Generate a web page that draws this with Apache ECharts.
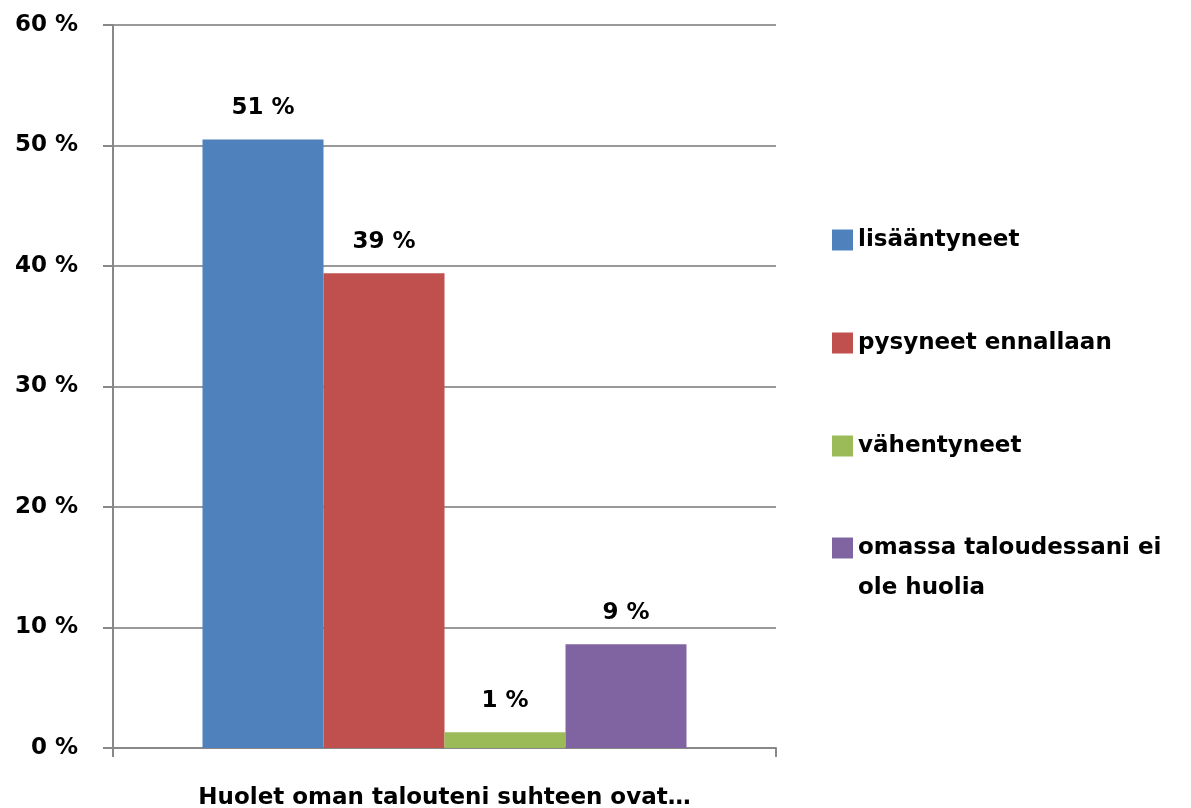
<!DOCTYPE html>
<html>
<head>
<meta charset="utf-8">
<script src="https://cdn.jsdelivr.net/npm/echarts@6/dist/echarts.min.js"></script>
<style>
  html, body { margin: 0; padding: 0; background: #fff; }
  #chart { width: 1191px; height: 808px; }
</style>
</head>
<body>
<div id="chart"></div>
<script>
const categories = ['Huolet oman talouteni suhteen ovat…'];
const seriesNames = ['lisääntyneet', 'pysyneet ennallaan', 'vähentyneet', 'omassa taloudessani ei ole huolia'];
const seriesValues = [50.5, 39.4, 1.3, 8.6];
const colors = ['#4F81BD', '#C0504D', '#9BBB59', '#8064A2'];

const font = '"DejaVu Sans", sans-serif';
const fontSize = 23;

const chart = echarts.init(document.getElementById('chart'));

var series = seriesNames.map(function (name, i) {
  return {
    name: name,
    type: 'bar',
    data: [seriesValues[i]],
    itemStyle: { color: colors[i] },
    barGap: 0,
    barCategoryGap: '27%',
    label: {
      show: true,
      position: 'top',
      distance: 20,
      fontFamily: font,
      fontWeight: 'bold',
      fontSize: fontSize,
      color: '#000',
      formatter: function (p) { return Math.round(p.value) + ' %'; }
    }
  };
});

var option = {
  backgroundColor: '#ffffff',
  animation: false,
  grid: { left: 113, right: 415, top: 25, bottom: 60, outerBoundsMode: 'none' },
  legend: [{
    orient: 'vertical',
    left: 827,
    top: 223,
    itemWidth: 21,
    itemHeight: 21,
    itemGap: 79,
    icon: 'rect',
    textStyle: {
      fontFamily: font,
      fontWeight: 'bold',
      fontSize: fontSize,
      lineHeight: 24,
      color: '#000'
    },
    data: seriesNames.slice(0, 3)
  }, {
    // wrapped item: blank first line keeps "omassa..." level with the icon
    orient: 'vertical',
    left: 827,
    top: 483,
    itemWidth: 21,
    itemHeight: 21,
    icon: 'rect',
    textStyle: {
      fontFamily: font,
      fontWeight: 'bold',
      fontSize: fontSize,
      lineHeight: 40,
      color: '#000'
    },
    data: [seriesNames[3]],
    formatter: function () {
      return ' \nomassa taloudessani ei\nole huolia';
    }
  }],
  xAxis: {
    type: 'category',
    data: categories,
    axisLine: { lineStyle: { color: '#888', width: 2 } },
    axisTick: { show: true, length: 9, lineStyle: { color: '#888', width: 2 } },
    axisLabel: {
      margin: 39,
      fontFamily: font,
      fontWeight: 'bold',
      fontSize: fontSize,
      color: '#000'
    }
  },
  yAxis: {
    type: 'value',
    min: 0,
    max: 60,
    interval: 10,
    axisLine: { show: true, lineStyle: { color: '#888', width: 2 } },
    axisTick: { show: true, length: 10, lineStyle: { color: '#888', width: 2 } },
    splitLine: { lineStyle: { color: '#999', width: 2 } },
    axisLabel: {
      margin: 35,
      fontFamily: font,
      fontWeight: 'bold',
      fontSize: fontSize,
      color: '#000',
      formatter: '{value} %'
    }
  },
  series: series
};

chart.setOption(option);
</script>
</body>
</html>
